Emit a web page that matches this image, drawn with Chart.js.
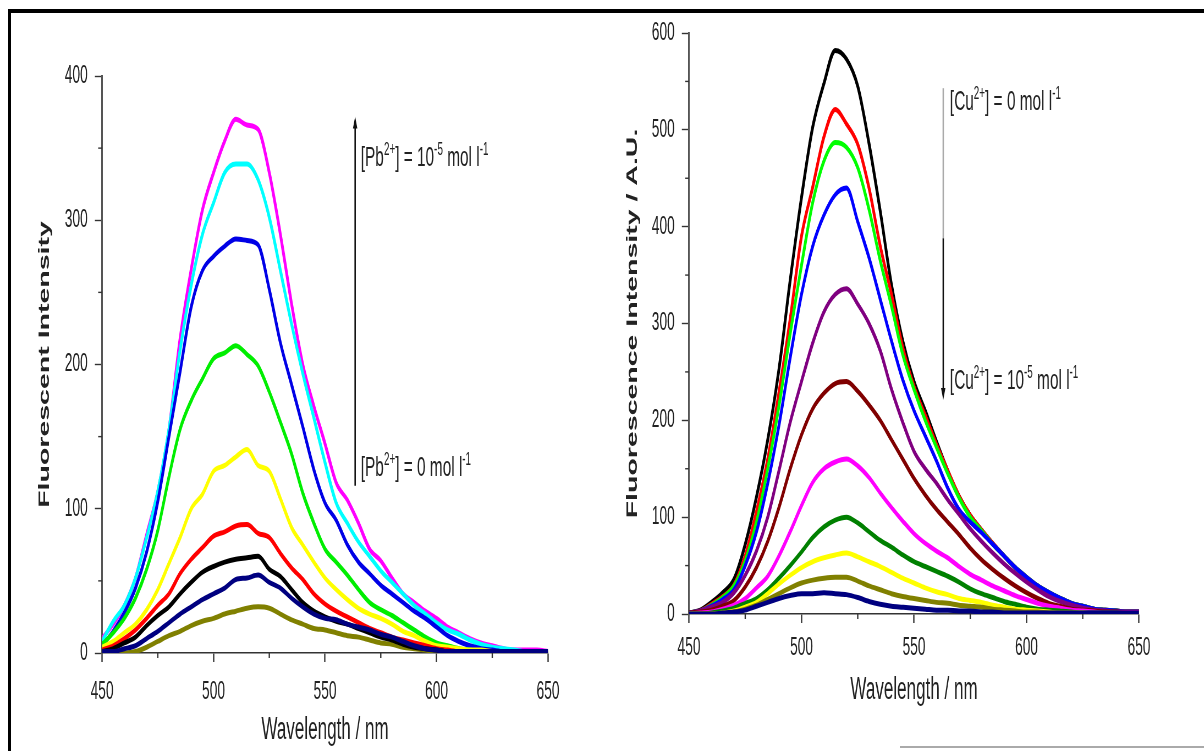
<!DOCTYPE html>
<html>
<head>
<meta charset="utf-8">
<title>Fluorescence titration spectra</title>
<script src="https://cdn.jsdelivr.net/npm/chart.js@4.4.0/dist/chart.umd.min.js"></script>
<style>
  html, body { margin: 0; padding: 0; background: #fff; }
  body { width: 1204px; height: 751px; position: relative; overflow: hidden; font-family: 'Liberation Sans', Arial, sans-serif; }
  /* the figure is laid out wide and squeezed horizontally, like the printed version */
  .fig { position: absolute; left: 0; top: 0; width: 2189px; height: 751px; transform: scaleX(0.55); transform-origin: 0 0; }
  .fig canvas { position: absolute; top: 0; }
  #pbChart { left: 0; }
  #cuChart { left: 1091px; }
  .note { position: absolute; font-size: 28px; line-height: 30px; color: #222; white-space: nowrap; }
  .note sup { font-size: 0.64em; vertical-align: 0.6em; line-height: 0; }
  .rule { position: absolute; background: #000; }
</style>
</head>
<body>
<div class="rule" style="left:8px; top:9px; width:1196px; height:4px;"></div>
<div class="rule" style="left:8px; top:9px; width:3px; height:742px;"></div>
<div class="rule" style="left:900px; top:746px; width:304px; height:2px; background:#aaa;"></div>

<div class="fig">
  <canvas id="pbChart" width="1091" height="751"></canvas>
  <canvas id="cuChart" width="1098" height="751"></canvas>
  <div class="note" style="left:656px; top:142px;">[Pb<sup>2+</sup>] = 10<sup>-5</sup> mol l<sup>-1</sup></div>
  <div class="note" style="left:656px; top:452px;">[Pb<sup>2+</sup>] = 0 mol l<sup>-1</sup></div>
  <div class="note" style="left:1727px; top:86px;">[Cu<sup>2+</sup>] = 0 mol l<sup>-1</sup></div>
  <div class="note" style="left:1727px; top:365px;">[Cu<sup>2+</sup>] = 10<sup>-5</sup> mol l<sup>-1</sup></div>
</div>

<script>
const wavelengths = [450, 455, 460, 465, 470, 475, 480, 485, 490, 495, 500, 505, 510, 515, 520, 525, 530, 535, 540, 545, 550,
                     555, 560, 565, 570, 575, 580, 585, 590, 595, 600, 605, 610, 615, 620, 625, 630, 635, 640, 645, 650];

// Pb2+ titration (intensity rises with lead)
const pbMagenta = [10, 20, 33, 52, 82, 112, 155, 218, 266, 307, 333, 355, 370, 366, 363, 333, 290, 242, 200, 171, 145, 118, 106, 90, 72, 64, 52, 41, 35, 29, 24, 18, 14, 10, 7, 5, 3, 2, 2, 2, 1];
const pbCyan    = [8, 22, 33, 52, 80, 112, 155, 210, 255, 290, 312, 333, 339, 339, 328, 302, 265, 228, 194, 163, 132, 104, 90, 77, 67, 57, 49, 41, 33, 27, 21, 16, 13, 9, 6, 4, 3, 2, 1, 1, 1];
const pbBlue    = [5, 15, 28, 45, 70, 105, 150, 195, 240, 265, 275, 282, 287, 286, 283, 252, 215, 186, 157, 127, 104, 92, 75, 63, 55, 47, 41, 35, 29, 24, 18, 12, 8, 5, 3, 2, 1, 1, 1, 0, 0];
const pbGreen   = [6, 14, 24, 38, 58, 85, 122, 155, 175, 190, 204, 208, 213, 207, 199, 181, 160, 138, 111, 90, 72, 63, 54, 44, 35, 30, 26, 21, 16, 11, 7, 5, 3, 2, 1, 1, 0, 0, 0, 0, 0];
const pbYellow  = [4, 8, 14, 20, 30, 44, 62, 80, 100, 110, 126, 130, 136, 141, 130, 126, 107, 87, 75, 63, 52, 44, 37, 31, 27, 24, 20, 15, 12, 8, 5, 4, 3, 2, 2, 1, 1, 1, 1, 0, 0];
const pbRed     = [2, 5, 10, 16, 24, 33, 41, 55, 65, 73, 81, 84, 88, 89, 83, 80, 69, 59, 51, 41, 34, 29, 25, 21, 17, 14, 11, 9, 7, 5, 3, 2, 1, 1, 0, 0, 0, 0, 0, 0, 0];
const pbBlack   = [1, 3, 7, 11, 19, 26, 32, 41, 49, 56, 60, 63, 65, 66, 67, 58, 53, 44, 35, 29, 25, 22, 20, 17, 14, 11, 9, 6, 4, 3, 2, 1, 1, 0, 0, 0, 0, 0, 0, 0, 0];
const pbNavy    = [1, 1, 3, 5, 10, 15, 21, 27, 32, 37, 41, 45, 51, 52, 54, 49, 45, 38, 32, 27, 24, 23, 20, 18, 16, 13, 11, 8, 5, 3, 2, 1, 1, 1, 1, 1, 1, 1, 1, 1, 1];
const pbOlive   = [0, 0, 0, 1, 4, 8, 12, 15, 19, 22, 24, 27, 29, 31, 32, 31, 27, 23, 20, 17, 16, 14, 12, 11, 9, 7, 6, 4, 3, 2, 1, 1, 0, 0, 0, 0, 0, 0, 0, 0, 0];

// Cu2+ titration (intensity quenched by copper)
const cuBlack   = [1, 4, 12, 22, 36, 72, 121, 180, 253, 345, 430, 503, 548, 582, 573, 545, 486, 416, 340, 282, 240, 210, 178, 148, 122, 102, 87, 73, 60, 48, 38, 29, 22, 16, 11, 8, 5, 4, 3, 2, 2];
const cuRed     = [1, 3, 10, 18, 30, 60, 106, 160, 229, 305, 390, 441, 493, 521, 506, 485, 440, 380, 330, 275, 235, 205, 175, 148, 122, 102, 87, 73, 60, 48, 38, 29, 22, 16, 11, 8, 5, 4, 3, 2, 2];
const cuGreen   = [1, 3, 9, 17, 29, 55, 95, 150, 215, 290, 360, 425, 468, 487, 482, 461, 418, 365, 318, 268, 232, 200, 172, 145, 120, 100, 86, 72, 60, 48, 38, 29, 22, 16, 11, 8, 5, 4, 3, 2, 2];
const cuBlue    = [1, 3, 8, 15, 25, 50, 85, 135, 195, 265, 330, 380, 412, 433, 440, 405, 368, 325, 282, 242, 210, 184, 158, 130, 108, 95, 84, 72, 60, 48, 38, 29, 22, 16, 11, 8, 5, 4, 3, 2, 2];
const cuPurple  = [1, 3, 7, 12, 22, 40, 65, 100, 148, 198, 240, 280, 312, 330, 336, 320, 300, 272, 232, 198, 168, 150, 135, 118, 103, 88, 75, 63, 52, 42, 33, 25, 18, 13, 9, 6, 4, 3, 2, 2, 2];
const cuMaroon  = [1, 2, 4, 8, 14, 28, 48, 75, 110, 150, 185, 212, 228, 238, 240, 230, 216, 200, 180, 160, 140, 123, 108, 95, 82, 68, 56, 46, 37, 29, 22, 16, 11, 8, 5, 4, 3, 2, 2, 1, 1];
const cuMagenta = [0, 1, 2, 5, 9, 16, 27, 39, 60, 85, 112, 136, 150, 157, 160, 153, 141, 125, 110, 96, 83, 73, 65, 58, 49, 41, 35, 29, 24, 19, 15, 11, 8, 6, 4, 3, 2, 1, 1, 1, 1];
const cuGreenDk = [0, 0, 1, 3, 6, 11, 16, 25, 37, 50, 64, 79, 90, 97, 100, 94, 85, 76, 69, 61, 54, 49, 44, 39, 33, 26, 21, 17, 13, 10, 7, 5, 4, 3, 2, 1, 1, 1, 1, 0, 0];
const cuYellow  = [0, 0, 0, 1, 3, 7, 12, 21, 31, 40, 48, 54, 58, 61, 63, 59, 54, 49, 43, 37, 32, 27, 23, 20, 16, 14, 12, 9, 7, 5, 4, 3, 2, 1, 1, 1, 0, 0, 0, 0, 0];
const cuOlive   = [0, 0, 0, 1, 2, 5, 9, 15, 21, 27, 32, 35, 37, 38, 38, 34, 29, 25, 21, 18, 16, 14, 12, 11, 9, 8, 7, 5, 4, 3, 2, 2, 1, 1, 1, 0, 0, 0, 0, 0, 0];
const cuNavy    = [0, 0, 0, 1, 2, 4, 8, 12, 16, 19, 21, 21, 22, 21, 20, 17, 13, 10, 8, 7, 6, 5, 4, 4, 3, 3, 2, 2, 1, 1, 1, 1, 1, 1, 1, 1, 1, 1, 1, 1, 1];

const FONT = "'Liberation Sans', Arial, sans-serif";

// short unlabeled ticks between the labeled ones
const minorTicks = {
  id: 'minorTicks',
  afterDraw(chart, args, opts) {
    const {ctx, chartArea} = chart;
    ctx.save();
    ctx.strokeStyle = '#333';
    for (const id of ['x', 'y']) {
      const o = opts[id];
      if (!o) continue;
      const scale = chart.scales[id];
      ctx.lineWidth = o.width;
      for (let v = scale.min; v <= scale.max; v += o.step) {
        if (v % o.major === 0) continue;
        const p = scale.getPixelForValue(v);
        ctx.beginPath();
        if (id === 'x') {
          ctx.moveTo(p, chartArea.bottom);
          ctx.lineTo(p, chartArea.bottom + o.len);
        } else {
          ctx.moveTo(chartArea.left - o.len, p);
          ctx.lineTo(chartArea.left, p);
        }
        ctx.stroke();
      }
    }
    ctx.restore();
  }
};

// vertical arrow showing the direction of the titration
const arrowNote = {
  id: 'arrowNote',
  afterDraw(chart, args, o) {
    if (!o || o.x == null) return;
    const {ctx, scales: {x, y}} = chart;
    const px = x.getPixelForValue(o.x);
    const p0 = y.getPixelForValue(o.from);
    const p1 = y.getPixelForValue(o.to);
    const dir = p1 < p0 ? -1 : 1;
    ctx.save();
    ctx.lineWidth = 2.6;
    if (o.fadeTo != null) {
      const pf = y.getPixelForValue(o.fadeTo);
      ctx.strokeStyle = '#aaa';
      ctx.beginPath(); ctx.moveTo(px, p0); ctx.lineTo(px, pf); ctx.stroke();
      ctx.strokeStyle = '#111';
      ctx.beginPath(); ctx.moveTo(px, pf); ctx.lineTo(px, p1 - dir * 8); ctx.stroke();
    } else {
      ctx.strokeStyle = '#111';
      ctx.beginPath(); ctx.moveTo(px, p0); ctx.lineTo(px, p1 - dir * 8); ctx.stroke();
    }
    ctx.fillStyle = '#111';
    ctx.beginPath();
    ctx.moveTo(px, p1);
    ctx.lineTo(px - 4, p1 - dir * 12);
    ctx.lineTo(px + 4, p1 - dir * 12);
    ctx.closePath();
    ctx.fill();
    ctx.restore();
  }
};

Chart.register(minorTicks, arrowNote);

function series(values, color) {
  return {
    data: wavelengths.map((w, i) => ({x: w, y: values[i]})),
    borderColor: color,
    borderWidth: 5,
    pointRadius: 0,
    fill: false,
    cubicInterpolationMode: 'monotone'
  };
}

function panel(canvas, cfg) {
  return new Chart(canvas, {
    type: 'line',
    data: {datasets: cfg.datasets},
    options: {
      responsive: false,
      animation: false,
      layout: {padding: cfg.padding},
      plugins: {
        legend: {display: false},
        tooltip: {enabled: false},
        minorTicks: {
          x: {step: 25, major: 50, len: 5, width: 2.4},
          y: {step: cfg.yMinor, major: cfg.yStep, len: 7, width: 1.4}
        },
        arrowNote: cfg.arrow
      },
      scales: {
        x: {
          type: 'linear', min: 450, max: 650,
          ticks: {stepSize: 50, padding: cfg.xTickPad, color: '#222', font: {family: FONT, size: 25}, maxRotation: 0},
          grid: {drawOnChartArea: false, tickLength: 9, tickWidth: 2.4, tickColor: '#333'},
          border: {color: '#333', width: 1.5},
          title: {display: true, text: 'Wavelength / nm', color: '#222',
                  font: {family: FONT, size: 31}, padding: {top: 0, bottom: cfg.xTitlePad}},
          afterFit: s => { s.height = cfg.xHeight; }
        },
        y: {
          min: 0, max: cfg.yMax,
          ticks: {stepSize: cfg.yStep, padding: 13, color: '#222', font: {family: FONT, size: 25}},
          grid: {drawOnChartArea: false, tickLength: 13, tickWidth: 1.4, tickColor: '#333'},
          border: {color: '#555', width: 3},
          title: {display: true, text: cfg.yTitle, color: '#222',
                  font: {family: FONT, size: 28.5, weight: 'bold'}, padding: {top: cfg.yTitlePad, bottom: 0}},
          afterFit: s => { s.width = cfg.yWidth; }
        }
      }
    }
  });
}

panel(document.getElementById('pbChart'), {
  datasets: [
    series(pbNavy, '#000080'),
    series(pbBlack, '#000000'),
    series(pbOlive, '#808000'),
    series(pbRed, '#ff0000'),
    series(pbYellow, '#ffff00'),
    series(pbGreen, '#00ee00'),
    series(pbBlue, '#0000e6'),
    series(pbCyan, '#00ffff'),
    series(pbMagenta, '#ff00ff')
  ],
  padding: {left: 20, right: 94.6, top: 76, bottom: 0},
  yWidth: 165.5, xHeight: 98,
  yMax: 400, yStep: 100, yMinor: 50,
  xTickPad: 15, xTitlePad: 1.5, yTitlePad: 44,
  yTitle: 'Fluorescent Intensity',
  arrow: {x: 563.5, from: 116, to: 372}
});

panel(document.getElementById('cuChart'), {
  datasets: [
    series(cuNavy, '#000080'),
    series(cuOlive, '#808000'),
    series(cuYellow, '#ffff00'),
    series(cuGreenDk, '#008000'),
    series(cuMagenta, '#ff00ff'),
    series(cuMaroon, '#800000'),
    series(cuPurple, '#800080'),
    series(cuBlue, '#0000ff'),
    series(cuGreen, '#00ff00'),
    series(cuRed, '#ff0000'),
    series(cuBlack, '#000000')
  ],
  padding: {left: 10, right: 118.1, top: 33, bottom: 0},
  yWidth: 151.7, xHeight: 137,
  yMax: 600, yStep: 100, yMinor: 50,
  xTickPad: 10, xTitlePad: 41.5, yTitlePad: 32,
  yTitle: 'Fluorescence Intensity / A.U.',
  arrow: {x: 563, from: 543, to: 221, fadeTo: 388}
});
</script>
</body>
</html>
